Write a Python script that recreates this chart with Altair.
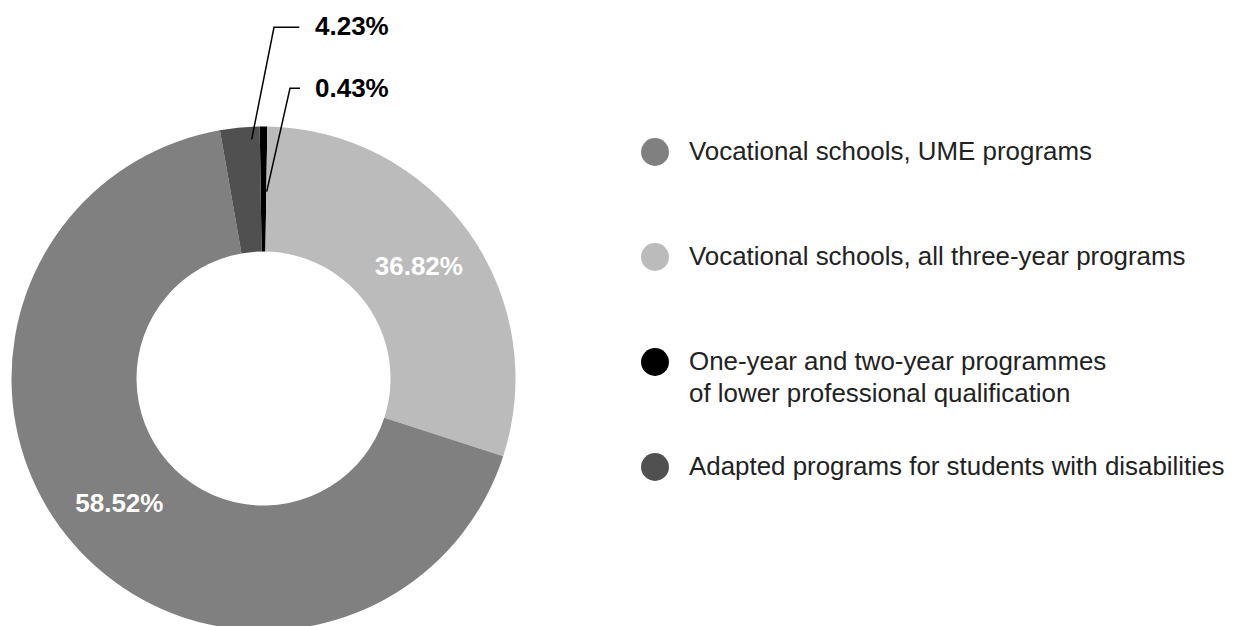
import math
import altair as alt
import pandas as pd

# ---- data ----
# slices, clockwise from 12 o'clock
slice_names = [
    "One-year and two-year programmes\nof lower professional qualification",
    "Vocational schools, all three-year programs",
    "Vocational schools, UME programs",
    "Adapted programs for students with disabilities",
]
# share of the circle each slice covers in the drawing (%)
slice_drawn_share = [0.48, 29.75, 67.24, 2.53]
# percentage texts printed on the chart
slice_pct_labels = ["0.43%", "36.82%", "58.52%", "4.23%"]
slice_label_inside = [False, True, True, False]

# legend order and colours
legend_names = [
    "Vocational schools, UME programs",
    "Vocational schools, all three-year programs",
    "One-year and two-year programmes\nof lower professional qualification",
    "Adapted programs for students with disabilities",
]
legend_colors = ["#808080", "#bbbbbb", "#000000", "#505050"]

# ---- annotation geometry (layout, pixels) ----
CX, CY = 255.5, 370.5
R_OUT, R_IN = 252, 127
start = -0.86 * math.pi / 180.0

callout_names = ["4.23%", "0.43%"]
callout_text_x = [307, 307]
callout_text_y = [19, 81]
leader_seg = ["a", "a", "a", "b", "b", "b"]
leader_ord = [0, 1, 2, 0, 1, 2]
leader_x = [243.7, 266.0, 291.3, 258.7, 282.0, 292.0]
leader_y = [131.3, 19.3, 19.3, 183.7, 80.3, 80.3]

df = pd.DataFrame({
    "category": slice_names,
    "share": slice_drawn_share,
    "idx": list(range(len(slice_names))),
    "label": [l if i else "" for l, i in zip(slice_pct_labels, slice_label_inside)],
})

color_scale = alt.Scale(domain=legend_names, range=legend_colors)
theta_enc = alt.Theta("share:Q", stack=True,
                      scale=alt.Scale(range=[start, start + 2 * math.pi]))

arcs = alt.Chart(df).mark_arc(
    outerRadius=R_OUT, innerRadius=R_IN, x=CX, y=CY
).encode(
    theta=theta_enc,
    color=alt.Color("category:N", scale=color_scale, legend=None),
    order=alt.Order("idx:Q"),
)

inner_labels = alt.Chart(df).mark_text(
    x=CX, y=CY, radius=191, font="Liberation Sans", fontSize=26,
    fontWeight="bold", color="white", align="center", baseline="middle"
).encode(
    theta=theta_enc,
    order=alt.Order("idx:Q"),
    text="label:N",
)

lines_df = pd.DataFrame({"seg": leader_seg, "ord": leader_ord, "x": leader_x, "y": leader_y})
leaders = alt.Chart(lines_df).mark_line(color="black", strokeWidth=1.5).encode(
    x=alt.X("x:Q", scale=None),
    y=alt.Y("y:Q", scale=None),
    detail="seg:N",
    order="ord:Q",
)

call_df = pd.DataFrame({"t": callout_names, "x": callout_text_x, "y": callout_text_y})
callouts = alt.Chart(call_df).mark_text(
    font="Liberation Sans", fontSize=26, fontWeight="bold", color="black",
    align="left", baseline="middle"
).encode(
    x=alt.X("x:Q", scale=None),
    y=alt.Y("y:Q", scale=None),
    text="t:N",
)

leg_df = pd.DataFrame({"category": legend_names})
leg_y = alt.Y("category:N", sort=legend_names,
              scale=alt.Scale(type="point", domain=legend_names, range=[144, 459], padding=0),
              axis=None)
leg_dots = alt.Chart(leg_df).mark_circle(size=780, opacity=1).encode(
    x=alt.value(647),
    y=leg_y,
    color=alt.Color("category:N", scale=color_scale, legend=None),
)
leg_text = alt.Chart(leg_df).mark_text(
    font="Liberation Sans", fontSize=25.9, color="#222222", align="left",
    baseline="middle", lineBreak="\n", lineHeight=32
).encode(
    x=alt.value(681),
    y=leg_y,
    text="category:N",
)

chart = alt.layer(
    arcs, inner_labels, leaders, callouts, leg_dots, leg_text
).resolve_scale(
    y="independent", x="independent"
).properties(
    width=1220, height=618,
    autosize=alt.AutoSizeParams(type="none"),
    padding=0,
    background="white",
).configure_view(stroke=None)

chart.save("out.html", embed_options={"renderer": "svg", "actions": False})
